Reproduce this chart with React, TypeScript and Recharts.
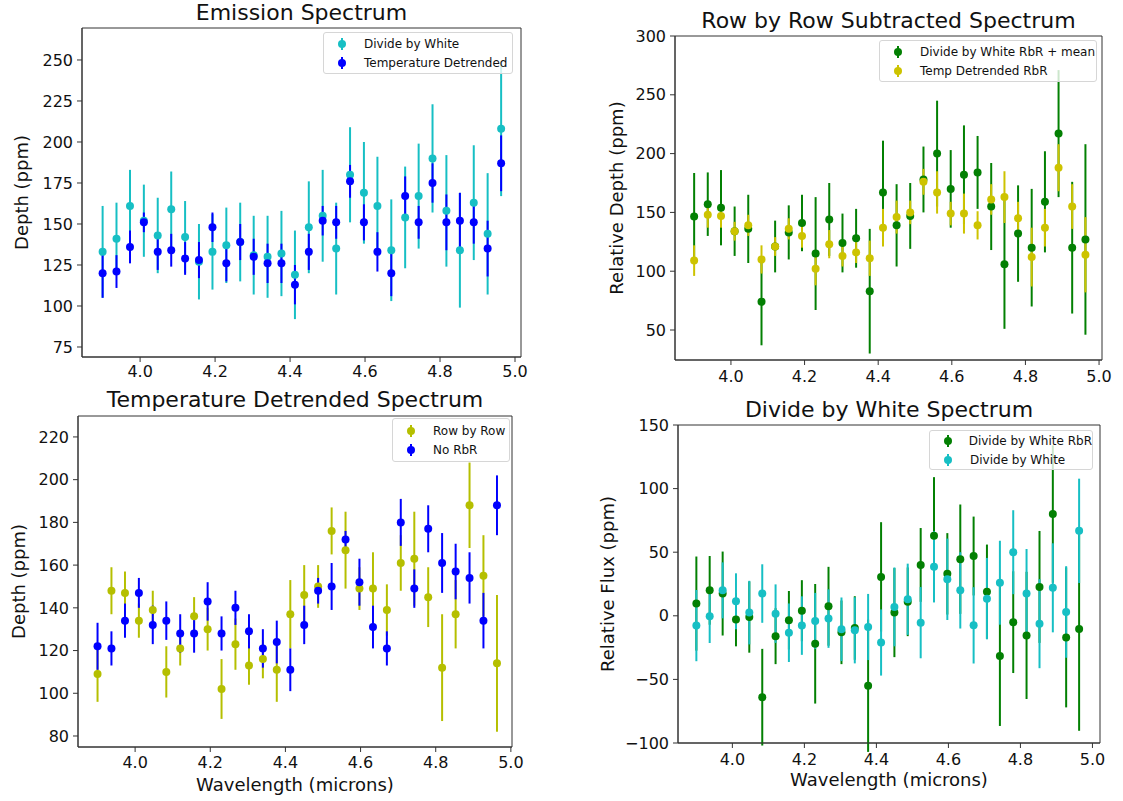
import React from 'react'
import { ScatterChart, Scatter, XAxis, YAxis, ErrorBar, Legend, ReferenceArea } from 'recharts'

const FONT = '"DejaVu Sans", sans-serif'

// wavelength bins (microns), shared by all four panels
const wavelength = [
  3.900, 3.937, 3.973, 4.010, 4.047, 4.083, 4.120, 4.157, 4.193, 4.230,
  4.267, 4.303, 4.340, 4.377, 4.413, 4.450, 4.487, 4.523, 4.560, 4.597,
  4.633, 4.670, 4.707, 4.743, 4.780, 4.817, 4.853, 4.890, 4.927, 4.963,
]
const xTicks = [4.0, 4.2, 4.4, 4.6, 4.8, 5.0]

// Emission Spectrum
const emisDivWhite = [133, 141, 161, 152, 143, 159, 142, 127, 133, 137, 139, 131, 130, 132, 119, 148, 155, 135, 180, 169, 161, 134, 154, 167, 190, 158, 134, 163, 144, 208]
const emisDivWhiteErr = [28, 22, 22, 22, 23, 23, 22, 23, 23, 23, 24, 24, 25, 26, 27, 28, 28, 28, 29, 31, 30, 31, 31, 32, 33, 34, 35, 35, 37, 41]
const emisTempDet = [120, 121, 136, 151, 133, 134, 129, 128, 148, 126, 139, 130, 126, 126, 113, 133, 152, 151, 176, 151, 133, 120, 167, 151, 175, 151, 152, 151, 135, 187]
const emisTempDetErr = [15, 10, 10, 6, 11, 10, 10, 11, 9, 11, 11, 11, 12, 12, 12, 11, 9, 10, 10, 11, 12, 14, 12, 10, 12, 17, 17, 13, 17, 17]

// Row by Row Subtracted Spectrum
const rbrDivWhiteMean = [146.5, 157, 154, 134, 136, 74, 121, 133, 141, 115, 144, 124, 128, 83, 167, 139, 147, 178, 200, 170, 182, 184, 155, 106, 132, 120, 159, 217, 120, 127]
const rbrDivWhiteMeanErr = [37, 27, 32, 21, 29, 37, 22, 23, 24, 48, 31, 25, 25, 53, 44, 35, 28, 28, 45, 33, 42, 31, 37, 55, 41, 50, 43, 54, 56, 81]
const rbrTempDet = [109, 148, 147, 134, 139, 110, 121, 136, 130, 102, 123, 113, 116, 111, 137, 146, 150, 176, 167, 149, 149, 139, 161, 163, 145, 112, 137, 188, 155, 114]
const rbrTempDetErr = [13, 11, 10, 8, 9, 12, 8, 9, 10, 14, 12, 9, 9, 15, 16, 14, 10, 11, 18, 10, 17, 12, 13, 22, 14, 25, 16, 20, 19, 32]

// Temperature Detrended Spectrum
const tdNoRbr = [122, 121, 134, 147, 132, 134, 128, 128, 143, 128, 140, 129, 121, 124, 111, 132, 148, 150, 172, 152, 131, 121, 180, 149, 177, 161, 157, 154, 134, 188]
const tdNoRbrErr = [11, 8, 8, 7, 9, 9, 9, 9, 9, 8, 8, 8, 9, 10, 10, 9, 6, 11, 4, 11, 10, 8, 11, 9, 11, 14, 13, 12, 13, 14]

// Divide by White Spectrum
const dbwRbr = [9.6, 20, 17.5, -3, -1, -64, -16, -3.5, 4, -22, 7.5, -13, -9.6, -55, 30.6, 2.5, 11, 40, 63, 33, 44.5, 47, 19, -31.6, -5, -15.4, 22.7, 80, -17, -10.4]
const dbwRbrErr = [37, 27, 33, 21, 28, 38, 22, 23, 24, 47, 31, 25, 25, 52, 43, 35, 27, 29, 46, 32, 43, 31, 37, 55, 40, 50, 44, 54, 55, 80]
const dbwPlain = [-7.7, -0.4, 20, 11.4, 2.5, 17.5, 1.7, -13.3, -7.7, -4, -2.2, -10.6, -11.4, -8.8, -21, 7, 13, -5.4, 38.5, 28.7, 20, -7.5, 13.5, 26, 50, 17.5, -6.2, 22, 3, 66.8]
const dbwPlainErr = [28, 21, 22, 22, 25, 23, 23, 23, 23, 22, 23, 25, 26, 26, 26, 31, 28, 28, 28, 32, 30, 30, 32, 33, 33, 35, 35, 35, 36, 41]

const CYAN = '#17bfc4'
const BLUE = '#0000ff'
const GREEN = '#038003'
const GOLD = '#cdc300'
const LIME = '#b5bf00'

type Series = { name: string; color: string; values: number[]; errors: number[] }

const rows = (s: Series) => wavelength.map((w, i) => ({ x: w, y: s.values[i], e: s.errors[i] }))

const minusFmt = (v: number) => (v < 0 ? '\u2212' + Math.abs(v) : String(v))

function LegendBox({ payload }: any) {
  return (
    <div
      style={{
        boxSizing: 'border-box', width: '100%', height: '100%',
        border: '1px solid #d6d6d6', borderRadius: 3, background: 'rgba(255,255,255,0.8)',
        display: 'flex', flexDirection: 'column', justifyContent: 'center',
        fontFamily: FONT, fontSize: 12, color: '#111',
      }}
    >
      {(payload || []).map((entry: any) => (
        <div key={entry.value} style={{ display: 'flex', alignItems: 'center', height: 19 }}>
          <svg width={16} height={16} style={{ marginLeft: 10, marginRight: 14 }}>
            <line x1={8} x2={8} y1={2} y2={14} stroke={entry.color} strokeWidth={2} />
            <circle cx={8} cy={8} r={4} fill={entry.color} />
          </svg>
          <span style={{ whiteSpace: 'nowrap' }}>{entry.value}</span>
        </div>
      ))}
    </div>
  )
}

interface PanelProps {
  left: number; top: number; plotW: number; height: number
  marginTop: number; yWidth: number; xHeight: number
  xDomain: [number, number]; yDomain: [number, number]; yTicks: number[]
  xTickMargin: number
  title: string; titleTop: number
  yLabel: string; yLabelOffset: number
  xLabel?: string; xLabelOffset?: number
  legend: { left: number; top: number; width: number; height: number }
  series: Series[]
}

function Panel(p: PanelProps) {
  const right = 22
  const width = p.yWidth + p.plotW + right
  const tickStyle = { fill: '#111', fontSize: 16, fontFamily: FONT }
  const labelStyle = { fill: '#111', fontSize: 18, fontFamily: FONT }
  return (
    <div style={{ position: 'absolute', left: p.left, top: p.top, width, height: p.height }}>
      <div
        style={{
          position: 'absolute', left: p.yWidth, width: p.plotW, top: p.titleTop,
          textAlign: 'center', fontFamily: FONT, fontSize: 22, lineHeight: '26px',
          color: '#111', whiteSpace: 'nowrap',
        }}
      >
        {p.title}
      </div>
      <ScatterChart width={width} height={p.height} margin={{ top: p.marginTop, right, bottom: 0, left: 0 }}>
        <XAxis
          xAxisId="b" type="number" dataKey="x" domain={p.xDomain} allowDataOverflow
          ticks={xTicks} tickFormatter={(v: number) => v.toFixed(1)} interval={0}
          height={p.xHeight} tickSize={5} tickMargin={p.xTickMargin}
          stroke="#333" tick={tickStyle}
          label={p.xLabel ? { value: p.xLabel, position: 'insideBottom', offset: p.xLabelOffset, style: labelStyle } : undefined}
        />
        <YAxis
          yAxisId="l" type="number" dataKey="y" domain={p.yDomain} allowDataOverflow
          ticks={p.yTicks} tickFormatter={minusFmt} interval={0}
          width={p.yWidth} tickSize={5} tickMargin={4} stroke="#333" tick={tickStyle}
          label={{ value: p.yLabel, angle: -90, position: 'insideLeft', offset: p.yLabelOffset, style: { ...labelStyle, textAnchor: 'middle' } }}
        />
        {/* axes frame (matplotlib spines) */}
        <ReferenceArea
          xAxisId="b" yAxisId="l"
          x1={p.xDomain[0]} x2={p.xDomain[1]} y1={p.yDomain[0]} y2={p.yDomain[1]}
          fill="none" fillOpacity={0} stroke="#333" strokeWidth={1} ifOverflow="visible"
        />
        {p.series.map(s => (
          <Scatter
            key={s.name} name={s.name} data={rows(s)} xAxisId="b" yAxisId="l"
            fill={s.color} isAnimationActive={false}
            shape={(props: any) => <circle cx={props.cx} cy={props.cy} r={4} fill={s.color} />}
          >
            <ErrorBar dataKey="e" direction="y" width={0} stroke={s.color} strokeWidth={2} />
          </Scatter>
        ))}
        <Legend
          layout="vertical" align="center" verticalAlign="middle"
          itemSorter={(() => 0) as any}
          wrapperStyle={{ left: p.legend.left, top: p.legend.top, width: p.legend.width, height: p.legend.height, right: 'auto', bottom: 'auto' }}
          content={(props: any) => <LegendBox payload={props.payload} />}
        />
      </ScatterChart>
    </div>
  )
}

export default function App() {
  return (
    <div style={{ position: 'absolute', left: 0, top: 0, width: 1123, height: 801, background: '#fff', overflow: 'hidden' }}>
      <Panel
        left={0} top={0} plotW={439} height={387}
        marginTop={28} yWidth={82} xHeight={30}
        xDomain={[3.845, 5.016]} yDomain={[68.9, 269.5]} yTicks={[75, 100, 125, 150, 175, 200, 225, 250]}
        xTickMargin={4}
        title="Emission Spectrum" titleTop={-0.5}
        yLabel="Depth (ppm)" yLabelOffset={22}
        legend={{ left: 323, top: 32, width: 190, height: 42 }}
        series={[
          { name: 'Divide by White', color: CYAN, values: emisDivWhite, errors: emisDivWhiteErr },
          { name: 'Temperature Detrended', color: BLUE, values: emisTempDet, errors: emisTempDetErr },
        ]}
      />
      <Panel
        left={560} top={0} plotW={427} height={390}
        marginTop={36} yWidth={115} xHeight={30}
        xDomain={[3.848, 5.008]} yDomain={[24.5, 300]} yTicks={[50, 100, 150, 200, 250, 300]}
        xTickMargin={6}
        title="Row by Row Subtracted Spectrum" titleTop={8}
        yLabel="Relative Depth (ppm)" yLabelOffset={57}
        legend={{ left: 319, top: 40, width: 218, height: 42 }}
        series={[
          { name: 'Divide by White RbR + mean', color: GREEN, values: rbrDivWhiteMean, errors: rbrDivWhiteMeanErr },
          { name: 'Temp Detrended RbR', color: GOLD, values: rbrTempDet, errors: rbrTempDetErr },
        ]}
      />
      <Panel
        left={0} top={390} plotW={434} height={411}
        marginTop={26} yWidth={78} xHeight={54}
        xDomain={[3.848, 5.003]} yDomain={[74.85, 229.8]} yTicks={[80, 100, 120, 140, 160, 180, 200, 220]}
        xTickMargin={5}
        title="Temperature Detrended Spectrum" titleTop={-3}
        yLabel="Depth (ppm)" yLabelOffset={19}
        xLabel="Wavelength (microns)" xLabelOffset={10}
        legend={{ left: 392, top: 28, width: 118, height: 44 }}
        series={[
          { name: 'Row by Row', color: LIME, values: rbrTempDet, errors: rbrTempDetErr },
          { name: 'No RbR', color: BLUE, values: tdNoRbr, errors: tdNoRbrErr },
        ]}
      />
      <Panel
        left={560} top={390} plotW={422} height={411}
        marginTop={35} yWidth={118} xHeight={58}
        xDomain={[3.849, 5.021]} yDomain={[-100, 150]} yTicks={[-100, -50, 0, 50, 100, 150]}
        xTickMargin={6}
        title="Divide by White Spectrum" titleTop={7}
        yLabel="Relative Flux (ppm)" yLabelOffset={48}
        xLabel="Wavelength (microns)" xLabelOffset={15}
        legend={{ left: 369, top: 40, width: 164, height: 40 }}
        series={[
          { name: 'Divide by White RbR', color: GREEN, values: dbwRbr, errors: dbwRbrErr },
          { name: 'Divide by White', color: CYAN, values: dbwPlain, errors: dbwPlainErr },
        ]}
      />
    </div>
  )
}
